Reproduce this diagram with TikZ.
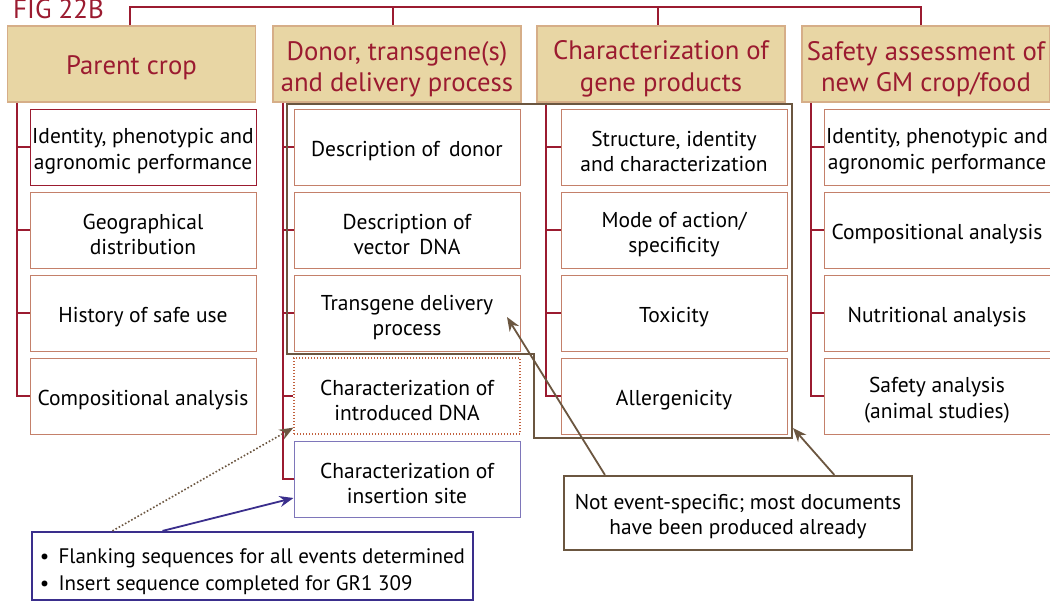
\documentclass[tikz,border=0pt]{standalone}
\usepackage{fontspec}
\setmainfont{PT Sans}
\usetikzlibrary{arrows.meta,calc}
\definecolor{dred}{HTML}{9B1B30}
\definecolor{hdrfill}{HTML}{E8D6A4}
\definecolor{hdrline}{HTML}{D6AE88}
\definecolor{salmon}{HTML}{C4806A}
\definecolor{brn}{HTML}{6B5640}
\definecolor{blu}{HTML}{3A2E8C}
\definecolor{lblu}{HTML}{7E76BA}
\definecolor{dotc}{HTML}{C2623F}
\newcommand{\hstr}{\rule{0pt}{29pt}}
\newcommand{\sstr}{\rule{0pt}{24pt}}
\tikzset{
  hdr/.style={draw=hdrline, fill=hdrfill, line width=1.2pt, minimum width=248, minimum height=76,
    inner sep=0, text=dred, font=\fontsize{26.7}{31.5}\selectfont, align=center},
  sub/.style={draw=salmon, fill=white, line width=1pt, minimum width=226, minimum height=76,
    inner sep=0, align=center, font=\fontsize{21.5}{25.5}\selectfont},
  tree/.style={draw=dred, line width=1.4pt},
  frame/.style={draw=brn, line width=2.2pt},
  arr/.style={-{Stealth[length=14pt,width=11pt]}},
}
\begin{document}
\begin{tikzpicture}[x=1pt,y=-1pt]
\useasboundingbox (0,0) rectangle (1050,600);

\node[anchor=base west, text=dred, font=\fontsize{27}{30}\selectfont, inner sep=0] (fig) at (13,18) {FIG 22B};

% headers
\node[hdr] (h1) at (131.5,64) {\rule{0pt}{27pt}Parent crop};
\node[hdr] (h2) at (397,64) {\hstr Donor, transgene(s)\\and delivery process};
\node[hdr] (h3) at (661,64) {\hstr Characterization of\\gene products};
\node[hdr] (h4) at (926,64) {\hstr Safety assessment of\\new GM crop/food};

% top connector
\coordinate (t1) at (130,7);
\coordinate (t2) at (393,7);
\coordinate (t3) at (658,7);
\coordinate (t4) at (921,7);
\draw[tree] (t1 |- h1.north) -- (t1) -- (t4) -- (t4 |- h4.north);
\draw[tree] (t2) -- (t2 |- h2.north);
\draw[tree] (t3) -- (t3 |- h3.north);

% column 1
\node[sub, draw=dred] (b11) at (143,147) {\sstr Identity, phenotypic and\\agronomic performance};
\node[sub] (b12) at (143,230) {\sstr Geographical\\distribution};
\node[sub] (b13) at (143,313) {\sstr History of safe use};
\node[sub] (b14) at (143,396) {\sstr Compositional analysis};

% column 2
\node[sub] (b21) at (407,147) {\sstr Description of\, donor};
\node[sub] (b22) at (407,230) {\sstr Description of\\vector\, DNA};
\node[sub] (b23) at (407,313) {\sstr Transgene delivery\\process};
\node[sub, draw=dotc, dotted, line width=1.3pt] (b24) at (407,396) {\sstr Characterization of\\introduced DNA};
\node[sub, draw=lblu] (b25) at (407,479) {\sstr Characterization of\\insertion site};

% column 3
\node[sub] (b31) at (674,147) {\sstr Structure, identity\\and characterization};
\node[sub] (b32) at (674,230) {\sstr Mode of action/\\specificity};
\node[sub] (b33) at (674,313) {\sstr Toxicity};
\node[sub] (b34) at (674,396) {\sstr Allergenicity};

% column 4
\node[sub] (b41) at (937,147) {\sstr Identity, phenotypic and\\agronomic performance};
\node[sub] (b42) at (937,230) {\sstr Compositional analysis};
\node[sub] (b43) at (937,313) {\sstr Nutritional analysis};
\node[sub] (b44) at (937,396) {\sstr Safety analysis\\(animal studies)};

% tree lines
\draw[tree] (17,0 |- h1.south) |- (b14.west);
\foreach \b in {b11,b12,b13} \draw[tree] (\b.west) -- (17,0 |- \b.west);
\draw[tree] (283,0 |- h2.south) |- (b25.west);
\foreach \b in {b21,b22,b23,b24} \draw[tree] (\b.west) -- (283,0 |- \b.west);
\draw[tree] (546,0 |- h3.south) |- (b34.west);
\foreach \b in {b31,b32,b33} \draw[tree] (\b.west) -- (546,0 |- \b.west);
\draw[tree] (811,0 |- h4.south) |- (b44.west);
\foreach \b in {b41,b42,b43} \draw[tree] (\b.west) -- (811,0 |- \b.west);

% brown frame
\draw[frame] (287,104) -- (792,104) -- (792,438) -- (534,438) -- (534,354) -- (287,354) -- cycle;

% callout
\node[draw=brn, line width=2.2pt, fill=white, minimum width=348, minimum height=74, inner sep=0,
  align=center, font=\fontsize{21.4}{25}\selectfont] (call) at (738,513)
  {\rule{0pt}{22pt}Not event-specific; most documents\\have been produced already};
\coordinate (a1) at (507,317);
\coordinate (a2) at (793,428);
\draw[brn, line width=1.8pt, arr] ($(call.north west)!0.12!(call.north east)$) -- (a1);
\draw[brn, line width=1.8pt, arr] ($(call.north west)!0.775!(call.north east)$) -- (a2);

% blue box
\node[draw=blu, line width=2.2pt, fill=white, minimum width=441, minimum height=68, inner sep=0,
  align=left, font=\fontsize{21}{27}\selectfont] (blue) at (252.5,566)
  {\rule{0pt}{27pt}\textbullet\ \,Flanking sequences for all events determined\\\textbullet\ \,Insert sequence completed for GR1 309};
\coordinate (a3) at ($(b25.west)+(0,19)$);
\coordinate (a4) at ($(b24.south west)+(0,-7)$);
\draw[blu, line width=1.8pt, arr] ($(blue.north west)!0.297!(blue.north east)$) -- (a3);
\draw[brn, line width=1.6pt, dotted, -{Stealth[length=14pt,width=11pt,line cap=butt]}] ($(blue.north west)!0.184!(blue.north east)$) -- (a4);
\end{tikzpicture}
\end{document}
